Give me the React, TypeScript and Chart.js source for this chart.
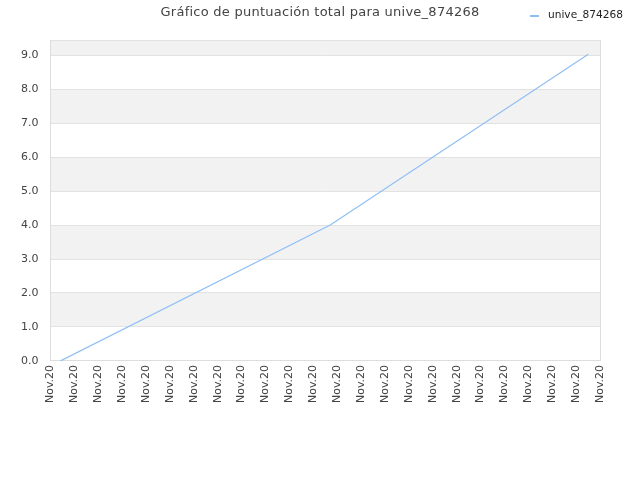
import React, { useEffect, useRef } from "react";
import { Chart, registerables } from "chart.js";

Chart.register(...registerables);

const titleText = "Gráfico de puntuación total para unive_874268";
const seriesLabel = "unive_874268";
const xTickLabels = Array.from({ length: 24 }, () => "Nov.20");
const pointX = [0.42, 11.71, 22.51];
const pointY = [0.0, 4.0, 9.03];
const yMax = 9.45;

const lineColor = "#8fbff3";
const textColor = "#444444";
const gridColor = "#e2e2e2";
const bandColor = "#f2f2f2";

const decorPlugin = {
  id: "decor",
  beforeDraw(chart: any) {
    const { ctx, chartArea, scales } = chart;
    const y = scales.y;
    ctx.save();
    ctx.fillStyle = bandColor;
    for (let i = 0; i < Math.ceil(y.max); i++) {
      if (i % 2 === 1) {
        const top = y.getPixelForValue(Math.min(i + 1, y.max));
        const bottom = y.getPixelForValue(i);
        ctx.fillRect(chartArea.left, top, chartArea.right - chartArea.left, bottom - top);
      }
    }
    ctx.restore();
  },
  afterDraw(chart: any) {
    const { ctx, chartArea, width } = chart;
    ctx.save();
    ctx.strokeStyle = "#dddddd";
    ctx.lineWidth = 1;
    ctx.beginPath();
    ctx.moveTo(Math.round(chartArea.right) + 0.5, chartArea.top);
    ctx.lineTo(Math.round(chartArea.right) + 0.5, chartArea.bottom);
    ctx.stroke();
    // title
    ctx.fillStyle = textColor;
    ctx.font = "13px 'DejaVu Sans'";
    (ctx as any).letterSpacing = "0.25px";
    ctx.textAlign = "center";
    ctx.textBaseline = "middle";
    ctx.fillText(titleText, width / 2, 13);
    (ctx as any).letterSpacing = "0px";
    // legend
    const ds = chart.data.datasets[0];
    ctx.strokeStyle = ds.borderColor;
    ctx.lineWidth = 2;
    ctx.beginPath();
    ctx.moveTo(530, 16);
    ctx.lineTo(539, 16);
    ctx.stroke();
    ctx.fillStyle = "#222222";
    ctx.font = "10.6px 'DejaVu Sans'";
    ctx.textBaseline = "middle";
    ctx.textAlign = "left";
    ctx.fillText(ds.label, 548, 15);
    ctx.restore();
  },
};

export default function App() {
  const ref = useRef<HTMLCanvasElement>(null);
  useEffect(() => {
    if (!ref.current) return;
    const chart = new Chart(ref.current, {
      type: "line",
      data: {
        datasets: [
          {
            label: seriesLabel,
            data: pointX.map((x, i) => ({ x, y: pointY[i] })),
            borderColor: lineColor,
            backgroundColor: lineColor,
            borderWidth: 1.2,
            pointRadius: 0,
            fill: false,
            tension: 0,
          },
        ],
      },
      plugins: [decorPlugin],
      options: {
        animation: false,
        responsive: false,
        devicePixelRatio: 1,
        layout: { padding: { left: 9, right: 40, top: 40, bottom: 73 } },
        plugins: {
          legend: { display: false },
          tooltip: { enabled: false },
          title: { display: false },
        },
        scales: {
          x: {
            type: "linear",
            min: 0,
            max: xTickLabels.length - 1,
            grid: { display: false, drawTicks: false },
            border: { display: true, color: "#dddddd" },
            ticks: {
              stepSize: 1,
              autoSkip: false,
              maxRotation: 90,
              minRotation: 90,
              padding: 4,
              color: textColor,
              font: { family: "'DejaVu Sans'", size: 11 },
              callback: (v: any) => xTickLabels[Math.round(v)] ?? "",
            },
          },
          y: {
            min: 0,
            max: yMax,
            grid: { color: gridColor, drawTicks: false },
            border: { display: true, color: "#dddddd" },
            ticks: {
              stepSize: 1,
              padding: 12,
              color: textColor,
              font: { family: "'DejaVu Sans'", size: 11 },
              callback: (v: any) => (Number.isInteger(v) ? Number(v).toFixed(1) : ""),
            },
          },
        },
      },
    });
    return () => chart.destroy();
  }, []);
  return (
    <div style={{ position: "absolute", left: 0, top: 0, width: 640, height: 480 }}>
      <canvas ref={ref} width={640} height={480} />
    </div>
  );
}
